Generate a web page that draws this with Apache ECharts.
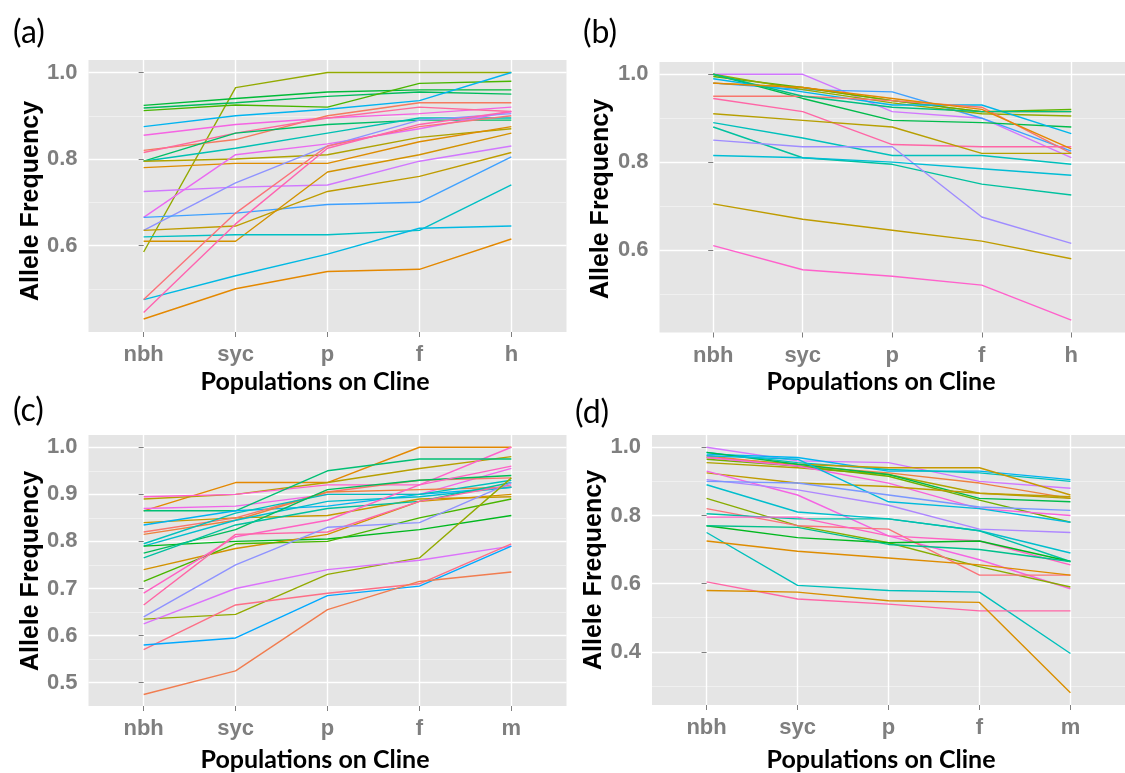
<!DOCTYPE html>
<html>
<head>
<meta charset="utf-8">
<script src="https://cdn.jsdelivr.net/npm/echarts@6/dist/echarts.min.js"></script>
<style>
  html, body { margin: 0; padding: 0; background: #ffffff; }
  #chart { width: 1125px; height: 773px; }
</style>
</head>
<body>
<div id="chart"></div>
<script>
// Populations along the cline (x categories)
const clineTop = ['nbh', 'syc', 'p', 'f', 'h'];
const clineBottom = ['nbh', 'syc', 'p', 'f', 'm'];

// (a) allele frequencies per locus, one row per line
const freqA = [
  [0.585, 0.965, 1.000, 1.000, 1.000],
  [0.924, 0.940, 0.955, 0.960, 0.960],
  [0.918, 0.930, 0.945, 0.955, 0.950],
  [0.912, 0.925, 0.920, 0.975, 0.980],
  [0.875, 0.900, 0.915, 0.935, 1.000],
  [0.855, 0.880, 0.895, 0.905, 0.920],
  [0.820, 0.845, 0.900, 0.930, 0.930],
  [0.815, 0.860, 0.895, 0.920, 0.910],
  [0.795, 0.860, 0.880, 0.890, 0.890],
  [0.795, 0.825, 0.860, 0.895, 0.895],
  [0.795, 0.800, 0.810, 0.850, 0.870],
  [0.780, 0.790, 0.790, 0.840, 0.875],
  [0.725, 0.735, 0.740, 0.795, 0.830],
  [0.665, 0.810, 0.835, 0.870, 0.910],
  [0.635, 0.745, 0.830, 0.890, 0.905],
  [0.665, 0.675, 0.695, 0.700, 0.805],
  [0.635, 0.645, 0.725, 0.760, 0.815],
  [0.610, 0.610, 0.770, 0.810, 0.860],
  [0.620, 0.625, 0.625, 0.635, 0.740],
  [0.475, 0.530, 0.580, 0.640, 0.645],
  [0.475, 0.675, 0.830, 0.875, 0.900],
  [0.445, 0.650, 0.825, 0.880, 0.910],
  [0.430, 0.500, 0.540, 0.545, 0.615]
];
const hueA = [95, 135, 145, 120, 225, 315, 20, 355, 150, 185, 80, 45, 290, 305, 265, 250, 70, 55, 195, 215, 10, 345, 40];

// (b)
const freqB = [
  [1.000, 1.000, 0.915, 0.900, 0.810],
  [0.980, 0.965, 0.960, 0.900, 0.825],
  [1.000, 0.945, 0.895, 0.890, 0.880],
  [0.980, 0.970, 0.940, 0.915, 0.915],
  [0.995, 0.970, 0.940, 0.915, 0.920],
  [1.000, 0.965, 0.935, 0.910, 0.905],
  [0.990, 0.960, 0.930, 0.930, 0.865],
  [0.950, 0.950, 0.940, 0.925, 0.820],
  [0.945, 0.915, 0.840, 0.835, 0.835],
  [0.910, 0.895, 0.880, 0.820, 0.820],
  [0.890, 0.855, 0.815, 0.815, 0.795],
  [0.880, 0.810, 0.795, 0.750, 0.725],
  [0.850, 0.835, 0.835, 0.675, 0.615],
  [0.815, 0.810, 0.800, 0.785, 0.770],
  [0.705, 0.670, 0.645, 0.620, 0.580],
  [0.610, 0.555, 0.540, 0.520, 0.440],
  [1.000, 0.950, 0.925, 0.915, 0.915],
  [0.980, 0.970, 0.945, 0.920, 0.830]
];
const hueB = [290, 250, 140, 60, 115, 95, 220, 15, 350, 75, 190, 175, 270, 205, 70, 330, 160, 40];

// (c)
const freqC = [
  [0.865, 0.925, 0.925, 1.000, 1.000],
  [0.890, 0.900, 0.925, 0.955, 0.980],
  [0.895, 0.900, 0.920, 0.920, 1.000],
  [0.870, 0.875, 0.900, 0.900, 0.955],
  [0.865, 0.865, 0.950, 0.975, 0.975],
  [0.840, 0.850, 0.855, 0.890, 0.895],
  [0.835, 0.865, 0.875, 0.900, 0.915],
  [0.820, 0.850, 0.905, 0.930, 0.935],
  [0.815, 0.845, 0.905, 0.910, 0.915],
  [0.795, 0.860, 0.900, 0.900, 0.930],
  [0.790, 0.845, 0.885, 0.895, 0.915],
  [0.790, 0.800, 0.805, 0.825, 0.855],
  [0.775, 0.825, 0.910, 0.930, 0.940],
  [0.765, 0.835, 0.870, 0.885, 0.925],
  [0.740, 0.785, 0.815, 0.885, 0.900],
  [0.715, 0.795, 0.800, 0.850, 0.890],
  [0.690, 0.810, 0.845, 0.920, 0.960],
  [0.665, 0.815, 0.820, 0.885, 0.920],
  [0.640, 0.750, 0.830, 0.840, 0.925],
  [0.635, 0.645, 0.730, 0.765, 0.935],
  [0.625, 0.700, 0.740, 0.760, 0.790],
  [0.570, 0.665, 0.690, 0.710, 0.795],
  [0.580, 0.595, 0.685, 0.705, 0.790],
  [0.475, 0.525, 0.655, 0.715, 0.735]
];
const hueC = [40, 75, 330, 310, 155, 65, 225, 15, 30, 190, 200, 130, 145, 175, 55, 120, 335, 350, 265, 95, 295, 5, 240, 25];

// (d)
const freqD = [
  [1.000, 0.960, 0.955, 0.900, 0.880],
  [0.980, 0.970, 0.930, 0.930, 0.905],
  [0.985, 0.955, 0.935, 0.925, 0.900],
  [0.970, 0.950, 0.940, 0.940, 0.860],
  [0.975, 0.945, 0.925, 0.895, 0.850],
  [0.955, 0.940, 0.920, 0.865, 0.850],
  [0.985, 0.950, 0.920, 0.850, 0.840],
  [0.965, 0.945, 0.915, 0.845, 0.780],
  [0.970, 0.945, 0.895, 0.820, 0.800],
  [0.925, 0.895, 0.885, 0.865, 0.855],
  [0.975, 0.965, 0.840, 0.820, 0.780],
  [0.930, 0.860, 0.740, 0.670, 0.585],
  [0.905, 0.875, 0.830, 0.760, 0.750],
  [0.900, 0.895, 0.860, 0.825, 0.815],
  [0.890, 0.810, 0.790, 0.755, 0.690],
  [0.850, 0.770, 0.720, 0.650, 0.590],
  [0.820, 0.770, 0.760, 0.625, 0.625],
  [0.805, 0.790, 0.790, 0.755, 0.665],
  [0.795, 0.795, 0.740, 0.725, 0.655],
  [0.770, 0.735, 0.720, 0.725, 0.665],
  [0.770, 0.765, 0.715, 0.700, 0.665],
  [0.750, 0.595, 0.580, 0.575, 0.395],
  [0.725, 0.695, 0.675, 0.655, 0.625],
  [0.605, 0.555, 0.540, 0.520, 0.520],
  [0.580, 0.575, 0.550, 0.545, 0.280]
];
const hueD = [290, 225, 190, 65, 30, 80, 140, 110, 320, 70, 210, 315, 275, 260, 200, 100, 10, 180, 335, 130, 165, 190, 45, 350, 50];

// y-axis breaks (labelled) and minor grid breaks
const breaksA = [0.6, 0.8, 1.0];
const minorA = [0.5, 0.7, 0.9];
const breaksB = [0.6, 0.8, 1.0];
const minorB = [0.5, 0.7, 0.9];
const breaksC = [0.5, 0.6, 0.7, 0.8, 0.9, 1.0];
const minorC = [0.55, 0.65, 0.75, 0.85, 0.95];
const breaksD = [0.4, 0.6, 0.8, 1.0];
const minorD = [0.3, 0.5, 0.7, 0.9];

// HCL (polar CIE-Luv) to sRGB, the default discrete hue palette (c = 100, l = 65)
function hcl(h, c, l) {
  c = c === undefined ? 100 : c;
  l = l === undefined ? 65 : l;
  const hr = h * Math.PI / 180;
  const u = c * Math.cos(hr), v = c * Math.sin(hr);
  const Xn = 95.047, Yn = 100, Zn = 108.883;
  const den = Xn + 15 * Yn + 3 * Zn;
  const un = 4 * Xn / den, vn = 9 * Yn / den;
  const Y = l > 8 ? Yn * Math.pow((l + 16) / 116, 3) : Yn * l / 903.3;
  const up = u / (13 * l) + un, vp = v / (13 * l) + vn;
  const X = Y * 9 * up / (4 * vp);
  const Z = Y * (12 - 3 * up - 20 * vp) / (4 * vp);
  const x = X / 100, y = Y / 100, z = Z / 100;
  const lin = [
    3.2404542 * x - 1.5371385 * y - 0.4985314 * z,
    -0.9692660 * x + 1.8760108 * y + 0.0415560 * z,
    0.0556434 * x - 0.2040259 * y + 1.0572252 * z
  ];
  const out = lin.map(function (ch) {
    let s = ch <= 0.0031308 ? 12.92 * ch : 1.055 * Math.pow(ch, 1 / 2.4) - 0.055;
    s = Math.max(0, Math.min(1, s));
    return Math.round(s * 255);
  });
  return 'rgb(' + out.join(',') + ')';
}

const panels = [
  { cats: clineTop, rows: freqA, hues: hueA, breaks: breaksA, minor: minorA,
    box: { left: 88.5, top: 60, width: 478, height: 272 }, yMin: 0.400, yMax: 1.029 },
  { cats: clineTop, rows: freqB, hues: hueB, breaks: breaksB, minor: minorB,
    box: { left: 659.5, top: 62, width: 478, height: 270.5 }, yMin: 0.412, yMax: 1.028 },
  { cats: clineBottom, rows: freqC, hues: hueC, breaks: breaksC, minor: minorC,
    box: { left: 88.5, top: 435, width: 478, height: 271 }, yMin: 0.4505, yMax: 1.026 },
  { cats: clineBottom, rows: freqD, hues: hueD, breaks: breaksD, minor: minorD,
    box: { left: 652, top: 435, width: 486, height: 270 }, yMin: 0.244, yMax: 1.036 }
];

const PANEL_BG = '#E5E5E5';
const TICK_GREY = '#7F7F7F';
const LABEL_FONT = { color: '#7F7F7F', fontFamily: 'Liberation Sans, Arial, sans-serif', fontWeight: 'bold' };

const grids = [], xAxes = [], yAxes = [], series = [];

panels.forEach(function (p, k) {
  grids.push({
    left: p.box.left, top: p.box.top, width: p.box.width, height: p.box.height,
    show: true, backgroundColor: PANEL_BG, borderWidth: 0, containLabel: false
  });
  const idx = p.cats.map(function (_, i) { return i; });
  xAxes.push({
    type: 'value', gridIndex: k, min: -0.6, max: p.cats.length - 1 + 0.6,
    axisLine: { show: false },
    axisTick: { show: true, length: 5, customValues: idx, lineStyle: { color: TICK_GREY, width: 1 } },
    axisLabel: Object.assign({
      customValues: idx, margin: 12, fontSize: 22,
      formatter: function (v) { return p.cats[Math.round(v)]; }
    }, LABEL_FONT),
    splitLine: { show: true, lineStyle: { color: '#FFFFFF', width: 1.4 } }
  });
  // labelled axis: major breaks
  yAxes.push({
    type: 'value', gridIndex: k, min: p.yMin, max: p.yMax, position: 'left',
    axisLine: { show: false },
    axisTick: { show: true, length: 5, customValues: p.breaks, lineStyle: { color: TICK_GREY, width: 1 } },
    axisLabel: Object.assign({
      customValues: p.breaks, margin: 11, fontSize: 22,
      formatter: function (v) { return v.toFixed(1); }
    }, LABEL_FONT),
    splitLine: { show: true, lineStyle: { color: '#FFFFFF', width: 1.4 } }
  });
  // unlabelled companion axis: minor grid lines only
  yAxes.push({
    type: 'value', gridIndex: k, min: p.yMin, max: p.yMax, position: 'left',
    axisLine: { show: false },
    axisTick: { show: false, customValues: p.minor },
    axisLabel: { show: false, customValues: p.minor },
    splitLine: { show: true, lineStyle: { color: '#F2F2F2', width: 0.8 } }
  });
  p.rows.forEach(function (row, j) {
    series.push({
      type: 'line', xAxisIndex: k, yAxisIndex: 2 * k,
      data: row.map(function (v, i) { return [i, v]; }),
      showSymbol: false, symbol: 'none', silent: true,
      lineStyle: { width: 1.4, color: hcl(p.hues[j]) },
      itemStyle: { color: hcl(p.hues[j]) },
      emphasis: { disabled: true }
    });
  });
});

// Panel letters and axis titles
const letterFont = '32px Lato, "Open Sans", sans-serif';
const xTitleFont = 'bold 25px Lato, "Open Sans", sans-serif';
const yTitleFont = 'bold 25px "Liberation Sans", Arial, sans-serif';
const texts = [
  { t: '(a)', x: 13, y: 33, font: letterFont, align: 'left' },
  { t: '(b)', x: 583, y: 33, font: letterFont, align: 'left' },
  { t: '(c)', x: 13, y: 411, font: letterFont, align: 'left' },
  { t: '(d)', x: 575, y: 413, font: letterFont, align: 'left' },
  { t: 'Populations on Cline', x: 315, y: 382, font: xTitleFont, align: 'center' },
  { t: 'Populations on Cline', x: 881, y: 382, font: xTitleFont, align: 'center' },
  { t: 'Populations on Cline', x: 315, y: 760, font: xTitleFont, align: 'center' },
  { t: 'Populations on Cline', x: 881, y: 760, font: xTitleFont, align: 'center' },
  { t: 'Allele Frequency', x: 31, y: 201, font: yTitleFont, align: 'center', rot: true },
  { t: 'Allele Frequency', x: 601, y: 199, font: yTitleFont, align: 'center', rot: true },
  { t: 'Allele Frequency', x: 31, y: 571, font: yTitleFont, align: 'center', rot: true },
  { t: 'Allele Frequency', x: 594, y: 570, font: yTitleFont, align: 'center', rot: true }
];
const graphic = texts.map(function (d) {
  return {
    type: 'text', x: d.x, y: d.y, rotation: d.rot ? Math.PI / 2 : 0, silent: true,
    style: { text: d.t, font: d.font, fill: '#000000', textAlign: d.align, textVerticalAlign: 'middle' }
  };
});

const chart = echarts.init(document.getElementById('chart'), null, { renderer: 'canvas' });
chart.setOption({
  animation: false,
  backgroundColor: '#FFFFFF',
  grid: grids,
  xAxis: xAxes,
  yAxis: yAxes,
  series: series,
  graphic: graphic
});
</script>
</body>
</html>
